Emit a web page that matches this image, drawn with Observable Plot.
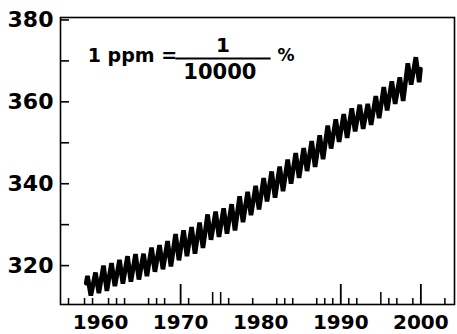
<!DOCTYPE html>
<html><head><meta charset="utf-8">
<script src="https://cdn.jsdelivr.net/npm/d3@7"></script>
<script src="https://cdn.jsdelivr.net/npm/@observablehq/plot@0.6"></script>
<style>html,body{margin:0;padding:0;background:#fff} svg{display:block}</style>
</head><body><div id="chart"></div>
<script>
// CO2 concentration (ppm): first reading, yearly May peaks and October troughs, last reading
const startTime = 1958.2, startValue = 315.7;
const years = [1958,1959,1960,1961,1962,1963,1964,1965,1966,1967,1968,1969,1970,1971,1972,1973,1974,1975,1976,1977,1978,1979,1980,1981,1982,1983,1984,1985,1986,1987,1988,1989,1990,1991,1992,1993,1994,1995,1996,1997,1998,1999];
const mayPeak = [317.5,318.3,320.0,320.6,321.4,322.3,322.8,322.9,324.4,325.0,326.0,327.7,328.6,329.4,330.5,332.5,333.2,334.0,335.0,336.9,338.0,339.5,341.4,343.0,344.2,345.9,347.5,348.7,350.4,351.8,354.2,355.7,357.0,358.4,359.3,359.5,361.4,363.6,365.0,366.0,369.4,370.9];
const octTrough = [312.7,313.3,313.8,315.0,315.6,316.1,316.6,317.4,318.5,319.1,319.8,321.3,322.3,322.9,324.3,326.3,327.0,327.8,328.6,330.6,332.3,333.7,335.7,336.6,338.2,340.0,341.4,343.1,344.1,346.0,348.6,350.2,351.2,352.8,353.4,354.4,356.0,357.9,359.5,360.2,364.2,364.8];
const endTime = 1999.96, endValue = 368.0;

// axes
const yLabels = [320, 340, 360, 380];
const yTicks = [320, 330, 340, 350, 360, 370, 380];
const xLabels = [1960, 1970, 1980, 1990, 2000];
const xMajorTicks = [1970, 1990, 2000];
const xMidTicks = [1974, 1975, 1995];
const xMinorTicks = [1956, 1958, 1959, 1961, 1962, 1963, 1966, 1967, 1968, 1971, 1976, 1979, 1982, 1983, 1984, 1987, 1988, 1989, 1991, 1992, 1996, 1997, 1999, 2003];

// annotation "1 ppm = 1/10000 %"
const noteLeft = "1 ppm =";
const noteNumerator = "1";
const noteDenominator = "10000";
const notePercent = "%";

const points = [{t: startTime, v: startValue}];
years.forEach((y, i) => {
  points.push({t: y + 0.37, v: mayPeak[i]});
  points.push({t: y + 0.79, v: octTrough[i]});
});
points.push({t: endTime, v: endValue});

const font = "'DejaVu Sans', 'Liberation Sans', sans-serif";

const plot = Plot.plot({
  width: 457,
  height: 334,
  marginLeft: 60,
  marginRight: 3,
  marginTop: 17,
  marginBottom: 30,
  style: {fontFamily: font, fontWeight: "bold", color: "#000", background: "#fff"},
  x: {domain: [1955, 2004.2]},
  y: {domain: [310.5, 380.6]},
  marks: [
    Plot.axisY({ticks: yLabels, tickSize: 0, tickPadding: 7, fontSize: 22, fontWeight: "bold", label: null, tickFormat: d => String(d)}),
    Plot.axisY({ticks: yTicks, tickSize: -9, tickFormat: () => "", label: null, strokeWidth: 1.6}),
    Plot.axisX({ticks: xLabels, tickSize: 0, tickPadding: 10, fontSize: 20, fontWeight: "bold", label: null, tickFormat: d => String(d)}),
    Plot.axisX({ticks: xMajorTicks, tickSize: -20, tickFormat: () => "", label: null, strokeWidth: 1.8}),
    Plot.axisX({ticks: xMidTicks, tickSize: -12, tickFormat: () => "", label: null, strokeWidth: 1.5}),
    Plot.axisX({ticks: xMinorTicks, tickSize: -6, tickFormat: () => "", label: null, strokeWidth: 1.5}),
    Plot.frame({stroke: "#000", strokeWidth: 1.6}),
    Plot.line(points, {x: "t", y: "v", stroke: "#000", strokeWidth: 4.6, strokeLinejoin: "miter"}),
    Plot.text([noteLeft], {x: 1958.4, y: 371.1, text: d => d, textAnchor: "start", fontSize: 19, fontWeight: "bold"}),
    Plot.ruleY([370.6], {x1: 1969.4, x2: 1981.3, stroke: "#000", strokeWidth: 2}),
    Plot.text([noteNumerator], {x: 1975.3, y: 373.8, text: d => d, textAnchor: "middle", fontSize: 20, fontWeight: "bold"}),
    Plot.text([noteDenominator], {x: 1974.9, y: 367.3, text: d => d, textAnchor: "middle", fontSize: 21, fontWeight: "bold"}),
    Plot.text([notePercent], {x: 1982.1, y: 371.3, text: d => d, textAnchor: "start", fontSize: 17, fontWeight: "bold"})
  ]
});
document.getElementById("chart").appendChild(plot);
</script>
</body></html>
